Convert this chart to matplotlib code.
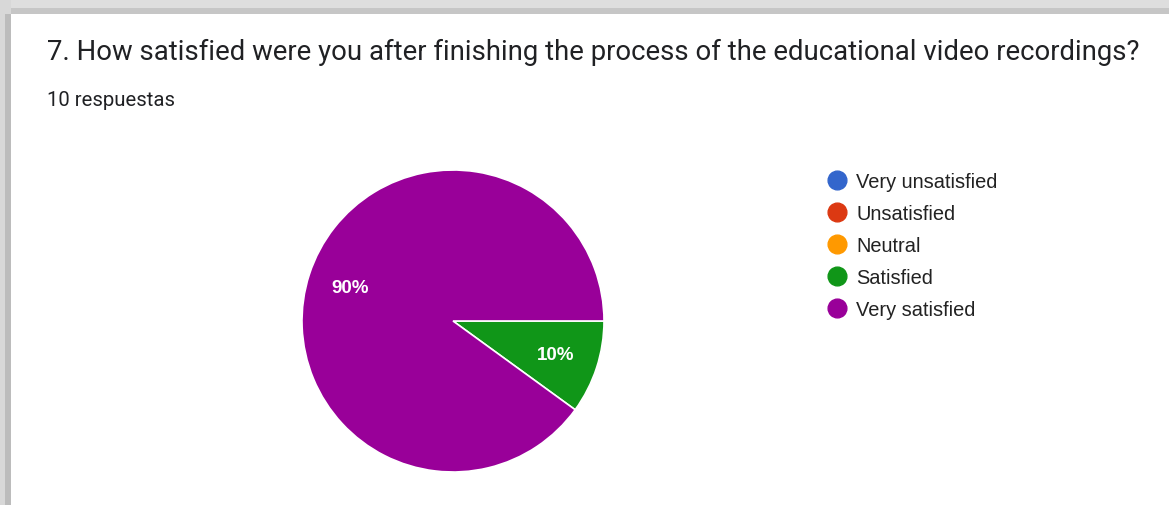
import matplotlib
matplotlib.use("Agg")
import matplotlib.pyplot as plt
from matplotlib.lines import Line2D
from matplotlib.patches import Rectangle

title = "7. How satisfied were you after finishing the process of the educational video recordings?"
subtitle = "10 respuestas"
categories = ["Very unsatisfied", "Unsatisfied", "Neutral", "Satisfied", "Very satisfied"]
values = [0, 0, 0, 1, 9]
colors = ["#3366cc", "#dc3912", "#ff9900", "#109618", "#990099"]

W, H = 1169, 506
fig = plt.figure(figsize=(W / 100, H / 100), dpi=100)
fig.patch.set_facecolor("white")

# screenshot frame (gray shadow bands)
fig.patches.append(Rectangle((0, 1 - 15 / H), 1, 15 / H, transform=fig.transFigure,
                             facecolor="#dedede", edgecolor="none", zorder=0))
fig.patches.append(Rectangle((0, 1 - 15 / H), 1, 6 / H, transform=fig.transFigure,
                             facecolor="#c6c6c6", edgecolor="none", zorder=0))
fig.patches.append(Rectangle((0, 0), 11 / W, 1, transform=fig.transFigure,
                             facecolor="#d8d8d8", edgecolor="none", zorder=0))
fig.patches.append(Rectangle((5 / W, 0), 6 / W, 1 - 15 / H, transform=fig.transFigure,
                             facecolor="#bcbcbc", edgecolor="none", zorder=0))

fig.text(47 / W, 1 - 52 / H, title, fontsize=19.8, family="Roboto", color="#202124",
         ha="left", va="center")
fig.text(47 / W, 1 - 100 / H, subtitle, fontsize=14.6, family="Roboto", color="#202124",
         ha="left", va="center")

# pie
cx, cy, r = 453, 322, 151
ax = fig.add_axes([(cx - r) / W, 1 - (cy + r) / H, 2 * r / W, 2 * r / H])
nz = [(c, v, col) for c, v, col in zip(categories, values, colors) if v > 0]
wedges, texts, autotexts = ax.pie(
    [v for _, v, _ in nz], colors=[col for _, _, col in nz], startangle=0,
    counterclock=False, autopct="%1.0f%%", pctdistance=0.715, radius=1,
    wedgeprops=dict(edgecolor="white", linewidth=1.2),
    textprops=dict(color="white", fontsize=13.5, family="Liberation Sans", fontweight="bold"))
ax.set_xlim(-1, 1)
ax.set_ylim(-1, 1)
ax.set_aspect("equal")
ax.axis("off")

handles = [Line2D([], [], marker="o", linestyle="none", markersize=13.5,
                  markerfacecolor=c, markeredgecolor=c) for c in colors]
fig.legend(handles, categories, loc="upper left", bbox_to_anchor=(827 / W, 1 - 173 / H),
           frameon=False, prop=dict(family="Liberation Sans", size=14.4),
           labelcolor="#222222", handlelength=1.0, handletextpad=0.45,
           labelspacing=0.65, borderpad=0, borderaxespad=0)

fig.savefig("out.png", dpi=100)
